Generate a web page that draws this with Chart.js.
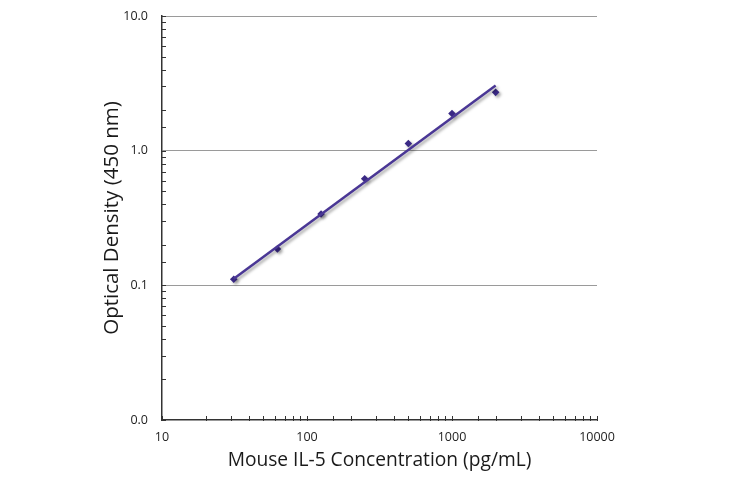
<!DOCTYPE html>
<html>
<head>
<meta charset="utf-8">
<script src="https://cdn.jsdelivr.net/npm/chart.js@4/dist/chart.umd.min.js"></script>
<style>
  body { margin: 0; background: #fff; }
  canvas { display: block; }
</style>
</head>
<body>
<canvas id="myChart" width="730" height="478"></canvas>
<script>
// standard curve points (pg/mL vs OD 450)
var concentrations = [31.25, 62.5, 125, 250, 500, 1000, 2000];
var odValues = [0.111, 0.186, 0.339, 0.618, 1.13, 1.89, 2.71];

var fitX = [31.25, 2000];
var fitY = [0.112, 3.05];

var yLabels = { 0.01: '0.0', 0.1: '0.1', 1: '1.0', 10: '10.0' };
var xLabels = { 10: '10', 100: '100', 1000: '1000', 10000: '10000' };

var lineColor = '#4a3795';
var pointColor = '#3a2985';
var fontFamily = '"Open Sans", "Noto Sans", sans-serif';

// grey drop shadow under the curve and markers
var shadowPlugin = {
  id: 'shadow',
  beforeDatasetsDraw: function(chart) {
    var ctx = chart.ctx;
    ctx.save();
    ctx.shadowColor = 'rgba(0,0,0,0.35)';
    ctx.shadowOffsetX = 2;
    ctx.shadowOffsetY = 2;
    ctx.shadowBlur = 3;
  },
  afterDatasetsDraw: function(chart) {
    chart.ctx.restore();
  }
};

// little tick marks on the inner side of the axes
var innerTicks = {
  id: 'innerTicks',
  afterDraw: function(chart) {
    var ctx = chart.ctx;
    var area = chart.chartArea;
    var xs = chart.scales.x, ys = chart.scales.y;
    ctx.save();
    ctx.strokeStyle = '#333';
    ctx.lineWidth = 1;
    ctx.beginPath();
    ys.ticks.forEach(function(t) {
      var py = Math.round(ys.getPixelForValue(t.value)) + 0.5;
      ctx.moveTo(area.left - 1, py);
      ctx.lineTo(area.left + 4, py);
    });
    xs.ticks.forEach(function(t) {
      var px = Math.round(xs.getPixelForValue(t.value)) + 0.5;
      ctx.moveTo(px, area.bottom + 1);
      ctx.lineTo(px, area.bottom - 4);
    });
    ctx.stroke();
    ctx.restore();
  }
};

document.addEventListener("DOMContentLoaded", function(event) {
  var ctx = document.getElementById('myChart').getContext('2d');

  var myChart = new Chart(ctx, {
    type: 'scatter',
    data: {
      datasets: [{
        label: 'fit',
        data: fitX.map(function(x, i) { return { x: x, y: fitY[i] }; }),
        showLine: true,
        borderColor: lineColor,
        borderWidth: 2.5,
        pointRadius: 0,
        order: 1
      }, {
        label: 'standard',
        data: concentrations.map(function(x, i) { return { x: x, y: odValues[i] }; }),
        pointStyle: 'rectRot',
        pointRadius: 3.8,
        backgroundColor: pointColor,
        borderColor: pointColor,
        borderWidth: 0,
        order: 2
      }]
    },
    options: {
      responsive: false,
      animation: false,
      layout: { padding: { left: 0, right: 133, top: 16, bottom: 0 } },
      plugins: {
        legend: { display: false },
        tooltip: { enabled: false }
      },
      scales: {
        x: {
          type: 'logarithmic',
          min: 10,
          max: 10000,
          afterFit: function(scale) { scale.height = 58; },
          grid: { display: true, drawOnChartArea: false, drawTicks: false },
          border: { display: true, color: '#333', width: 1.5 },
          ticks: {
            autoSkip: false,
            maxRotation: 0,
            padding: 10,
            color: '#222',
            font: { family: fontFamily, size: 12.5 },
            callback: function(value) { return xLabels[value] || ''; }
          },
          title: {
            display: true,
            text: 'Mouse IL-5 Concentration (pg/mL)',
            color: '#1a1a1a',
            font: { family: fontFamily, size: 19.2 },
            padding: { top: 0, bottom: 6 }
          }
        },
        y: {
          type: 'logarithmic',
          min: 0.01,
          max: 10,
          afterFit: function(scale) { scale.width = 162; },
          grid: {
            drawTicks: true,
            tickLength: 12,
            tickColor: 'rgba(0,0,0,0)',
            color: function(c) {
              var v = c.tick && c.tick.value;
              return (v === 0.1 || v === 1 || v === 10) ? '#9a9a9a' : 'rgba(0,0,0,0)';
            },
            lineWidth: 1
          },
          border: { display: true, color: '#333', width: 1.5 },
          ticks: {
            autoSkip: false,
            padding: 2,
            color: '#222',
            font: { family: fontFamily, size: 12.5 },
            callback: function(value) { return yLabels[value] || ''; }
          },
          title: {
            display: true,
            text: 'Optical Density (450 nm)',
            color: '#1a1a1a',
            font: { family: fontFamily, size: 20.5 },
            padding: { top: 100, bottom: 0 }
          }
        }
      }
    },
    plugins: [shadowPlugin, innerTicks]
  });
});
</script>
</body>
</html>
